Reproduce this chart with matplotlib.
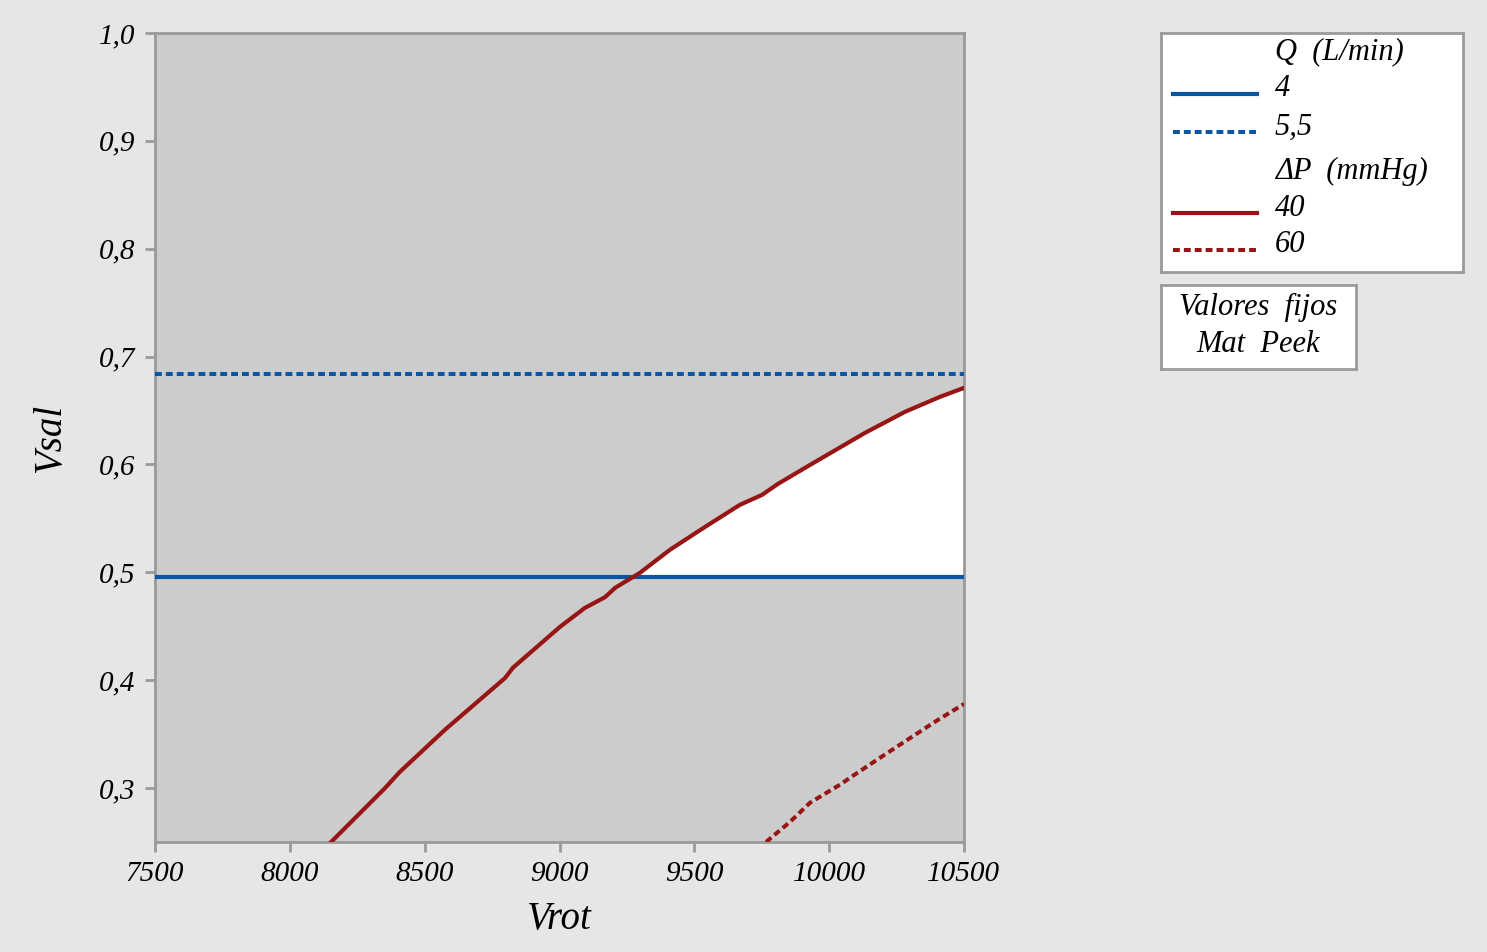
import matplotlib
matplotlib.use("Agg")
import numpy as np
import matplotlib.pyplot as plt

# contour lines
q_levels = ["4", "5,5"]
q_values = [0.4958, 0.684]

dp_levels = ["40", "60"]
dp40_x = [8153, 8353, 8408, 8575, 8798, 8827, 9002, 9094, 9169, 9206, 9298,
          9410, 9539, 9669, 9751, 9810, 9929, 10133, 10281, 10411, 10500]
dp40_y = [0.250, 0.300, 0.315, 0.354, 0.402, 0.4115, 0.4495, 0.467, 0.477, 0.4856, 0.4995,
          0.521, 0.542, 0.5626, 0.5718, 0.582, 0.5996, 0.6293, 0.6488, 0.6627, 0.671]
dp60_x = [9766, 9855, 9929, 10040, 10077, 10188, 10392, 10500]
dp60_y = [0.250, 0.2687, 0.2864, 0.3031, 0.3095, 0.328, 0.3614, 0.378]

xticks = [7500, 8000, 8500, 9000, 9500, 10000, 10500]
yticks = [0.3, 0.4, 0.5, 0.6, 0.7, 0.8, 0.9, 1.0]

blue = "#0b55a5"
red = "#981515"
grey = "#9a9a9a"
W, H = 1487, 952
FONT = "Liberation Serif"
DOT = (0, (1.7, 1.0))

fig = plt.figure(figsize=(W / 100, H / 100), dpi=100, facecolor="#e6e6e6")

def px_axes(x0, y0, x1, y1):
    return fig.add_axes([x0 / W, 1 - y1 / H, (x1 - x0) / W, (y1 - y0) / H])

ax = px_axes(155, 33, 964, 842)
ax.set_facecolor("#cccccc")

# feasible region: above Q=4, below dP=40
xs = np.array(dp40_x, float)
ys = np.array(dp40_y, float)
ax.fill_between(xs, q_values[0], ys, where=ys >= q_values[0], interpolate=True,
                color="white", zorder=1, lw=0)

ax.axhline(q_values[0], color=blue, lw=3, zorder=3)
ax.axhline(q_values[1], color=blue, lw=2.9, ls=DOT, zorder=3)
ax.plot(dp40_x, dp40_y, color=red, lw=3, zorder=3)
ax.plot(dp60_x, dp60_y, color=red, lw=2.9, ls=DOT, zorder=3)

ax.set_xlim(7500, 10500)
ax.set_ylim(0.25, 1.0)
ax.set_xticks(xticks)
ax.set_xticklabels([str(t) for t in xticks])
ax.set_yticks(yticks)
ax.set_yticklabels([f"{t:.1f}".replace(".", ",") for t in yticks])
for s in ax.spines.values():
    s.set_color(grey)
    s.set_linewidth(2)
ax.tick_params(colors=grey, width=2, length=7, labelcolor="black", pad=7)
for lab in ax.get_xticklabels() + ax.get_yticklabels():
    lab.set_fontfamily(FONT)
    lab.set_fontstyle("italic")
    lab.set_fontsize(21)
ax.set_xlabel("Vrot", fontfamily=FONT, style="italic", fontsize=28, labelpad=10)
ax.set_ylabel("Vsal", fontfamily=FONT, style="italic", fontsize=28, labelpad=22)

# legend box
lg = px_axes(1161, 33, 1463, 272)
lg.set_xlim(1161, 1463)
lg.set_ylim(272, 33)
lg.set_xticks([])
lg.set_yticks([])
lg.set_facecolor("white")
for s in lg.spines.values():
    s.set_color(grey)
    s.set_linewidth(2)
rows = [("Q  (L/min)", None, None, 52),
        (q_levels[0], blue, "-", 89),
        (q_levels[1], blue, DOT, 127),
        ("ΔP  (mmHg)", None, None, 171),
        (dp_levels[0], red, "-", 208),
        (dp_levels[1], red, DOT, 245)]
for txt, c, ls, y in rows:
    if c is not None:
        lg.plot([1173, 1257], [y + 5, y + 5], color=c, ls=ls,
                lw=3 if ls == "-" else 2.9)
    lg.text(1275, y, txt, fontfamily=FONT, style="italic", fontsize=22, va="center")

# fixed values box
fb = px_axes(1161, 285, 1356, 369)
fb.set_xlim(0, 1)
fb.set_ylim(0, 1)
fb.set_xticks([])
fb.set_yticks([])
fb.set_facecolor("white")
for s in fb.spines.values():
    s.set_color(grey)
    s.set_linewidth(2)
fb.text(0.5, 0.73, "Valores  fijos", ha="center", va="center",
        fontfamily=FONT, style="italic", fontsize=22)
fb.text(0.5, 0.29, "Mat  Peek", ha="center", va="center",
        fontfamily=FONT, style="italic", fontsize=22)

plt.savefig("out.png", dpi=100, facecolor=fig.get_facecolor())
